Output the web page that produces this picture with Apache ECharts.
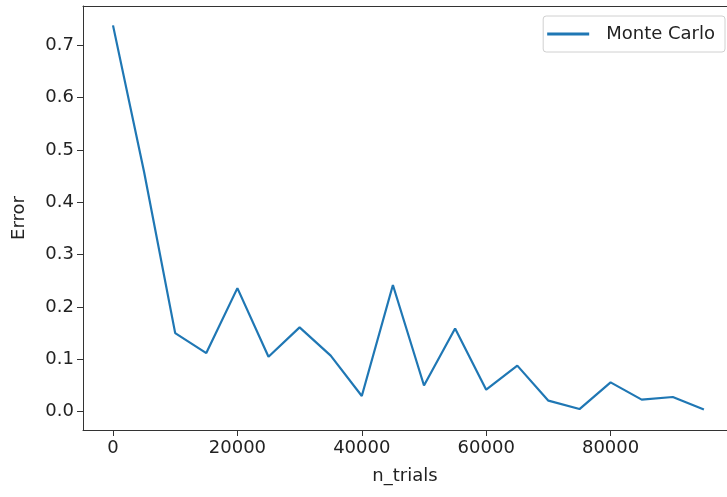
<!DOCTYPE html>
<html>
<head>
<meta charset="utf-8">
<script src="https://cdn.jsdelivr.net/npm/echarts@6/dist/echarts.min.js"></script>
<style>
html,body{margin:0;padding:0;background:#fff;}
#c{width:727px;height:497px;}
</style>
</head>
<body>
<div id="c"></div>
<script>
var nTrials = [0,5000,10000,15000,20000,25000,30000,35000,40000,45000,50000,55000,60000,65000,70000,75000,80000,85000,90000,95000];
var errors = [0.738,0.458,0.150,0.112,0.236,0.105,0.161,0.107,0.030,0.242,0.050,0.159,0.042,0.088,0.021,0.005,0.056,0.023,0.028,0.004];
var xTicks = [0,20000,40000,60000,80000];
var yTicks = [0.0,0.1,0.2,0.3,0.4,0.5,0.6,0.7];
var seriesName = 'Monte Carlo';

var font = 'DejaVu Sans';
var txt = '#222';
var fs = 18;
var chart = echarts.init(document.getElementById('c'), null, {renderer:'canvas'});
chart.setOption({
  animation:false,
  backgroundColor:'#fff',
  grid:{left:83,top:6,bottom:67,right:0,show:false},
  legend:{
    right:2, top:16, orient:'horizontal',
    data:[seriesName],
    icon:'rect', itemWidth:42, itemHeight:3,
    padding:[8,10,8,4],
    borderColor:'#d0d0d0', borderWidth:1, borderRadius:3,
    backgroundColor:'#fff',
    textStyle:{fontFamily:font,fontSize:fs,color:txt,padding:[0,0,0,12],lineHeight:20}
  },
  xAxis:[{
    type:'value', min:-4823, max:98714, position:'bottom',
    name:'n_trials', nameLocation:'middle', nameGap:37,
    nameTextStyle:{fontFamily:font,fontSize:fs,color:txt},
    axisLine:{show:true,onZero:false,lineStyle:{color:'#333',width:1}},
    axisTick:{show:true,inside:false,length:6,lineStyle:{color:'#333'},customValues:xTicks},
    axisLabel:{fontFamily:font,fontSize:fs,color:txt,margin:9,customValues:xTicks,formatter:function(v){return String(v);}},
    splitLine:{show:false}
  },{
    type:'value', min:-4823, max:98714, position:'top',
    axisLine:{show:true,onZero:false,lineStyle:{color:'#333',width:1}},
    axisTick:{show:false}, axisLabel:{show:false}, splitLine:{show:false}
  }],
  yAxis:{
    type:'value', min:-0.035, max:0.775,
    name:'Error', nameLocation:'middle', nameGap:55, nameRotate:90,
    nameTextStyle:{fontFamily:font,fontSize:fs,color:txt},
    axisLine:{show:true,onZero:false,lineStyle:{color:'#333',width:1}},
    axisTick:{show:true,inside:false,length:6,lineStyle:{color:'#333'},customValues:yTicks},
    axisLabel:{fontFamily:font,fontSize:fs,color:txt,margin:9,customValues:yTicks,formatter:function(v){return v.toFixed(1);}},
    splitLine:{show:false}
  },
  series:[{
    name:seriesName, type:'line', xAxisIndex:0,
    data:nTrials.map(function(x,i){return [x,errors[i]];}),
    symbol:'none', showSymbol:false,
    lineStyle:{color:'#1f77b4',width:2.2},
    itemStyle:{color:'#1f77b4'}
  }]
});
</script>
</body>
</html>
